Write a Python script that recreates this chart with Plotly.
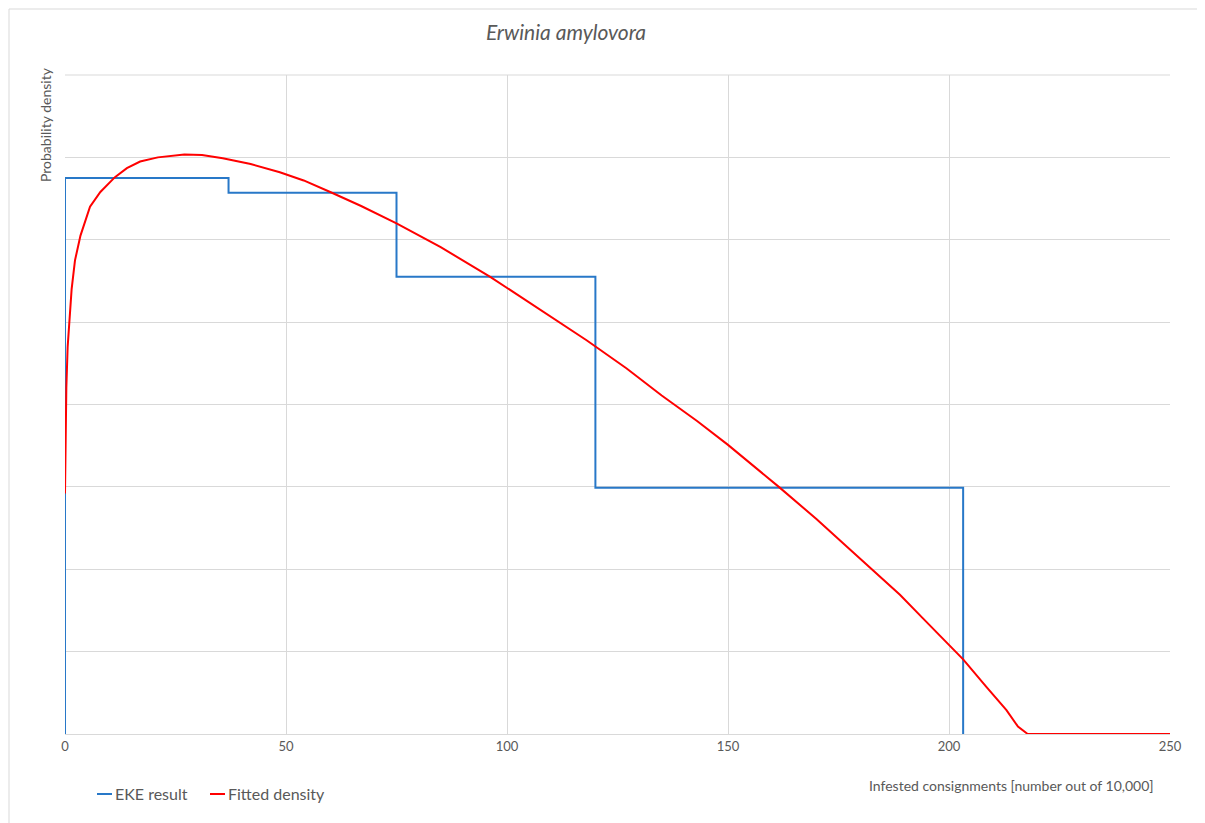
import plotly.graph_objects as go

# EKE result (step density)
eke_x = [0, 0, 37, 75, 120, 203.2, 203.2]
eke_y = [0, 6.75, 6.57, 5.55, 2.99, 2.99, 0]

# Fitted density
fit_x = [0, 0.1, 0.3, 0.6, 1.0, 1.5, 2.26, 3.5, 5.66, 8, 11.3, 14, 17, 21, 27, 31, 35.7,
         42, 48.6, 54, 60, 67, 75, 85, 96.2, 107, 118, 127, 135, 143, 150, 161.5, 170,
         177.6, 183, 188.9, 194, 199.9, 203.2, 208.5, 213, 215.6, 217.8, 250]
fit_y = [2.92, 3.6, 4.2, 4.7, 5.05, 5.4, 5.75, 6.05, 6.40, 6.58, 6.76, 6.87, 6.95, 7.00, 7.035,
         7.03, 6.99, 6.92, 6.82, 6.72, 6.58, 6.41, 6.20, 5.91, 5.55, 5.17, 4.78, 4.44, 4.11,
         3.80, 3.51, 3.00, 2.61, 2.24, 1.98, 1.69, 1.41, 1.08, 0.906, 0.57, 0.29, 0.09, 0, 0]

x_ticks = [0, 50, 100, 150, 200, 250]
legend_names = ["EKE result", "Fitted density"]
legend_colors = ["#2878C8", "#FF0000"]

FONT = "Lato"
GRAY = "#595959"
GRID = "#d9d9d9"

# page offset (browser body margin)
OFF = 8
W, H = 1205 - OFF, 823 - OFF


def px(X):
    return (X - 65) / 1105


def py(Y):
    return (734 - Y) / 659


fig = go.Figure()
fig.add_trace(go.Scatter(x=eke_x, y=eke_y, mode="lines", name=legend_names[0],
                         line=dict(color=legend_colors[0], width=2, shape="hv")))
fig.add_trace(go.Scatter(x=fit_x, y=fit_y, mode="lines", name=legend_names[1],
                         line=dict(color=legend_colors[1], width=2, shape="linear")))

annotations = [
    dict(text="Probability density", xref="paper", yref="paper",
         x=px(45), y=py(125), textangle=-90, showarrow=False,
         xanchor="center", yanchor="middle", font=dict(size=14, color=GRAY, family=FONT)),
    dict(text="Infested consignments [number out of 10,000]", xref="paper", yref="paper",
         x=px(1011), y=py(786), showarrow=False,
         xanchor="center", yanchor="middle", font=dict(size=14, color=GRAY, family=FONT)),
]
shapes = [
    dict(type="rect", xref="paper", yref="paper",
         x0=px(9), x1=px(1215), y0=py(840), y1=py(9),
         line=dict(color=GRID, width=1), layer="below"),
    dict(type="line", xref="paper", yref="paper", x0=0, x1=1, y0=1, y1=1,
         line=dict(color=GRID, width=1), layer="below"),
]
# manual legend
leg_line_x = [97, 210]
for i, name in enumerate(legend_names):
    x0 = leg_line_x[i]
    shapes.append(dict(type="line", xref="paper", yref="paper",
                       x0=px(x0), x1=px(x0 + 15), y0=py(794), y1=py(794),
                       line=dict(color=legend_colors[i], width=2)))
    annotations.append(dict(text=name, xref="paper", yref="paper", x=px(x0 + 16), y=py(794),
                            xanchor="left", yanchor="middle", showarrow=False,
                            font=dict(size=16, color=GRAY, family=FONT)))

fig.update_layout(
    width=W, height=H,
    margin=dict(l=65 - OFF, r=35, t=75 - OFF, b=89),
    paper_bgcolor="white", plot_bgcolor="white",
    font=dict(family=FONT, color=GRAY),
    title=dict(text="<i>Erwinia amylovora</i>", x=(566 - OFF) / W, xanchor="center",
               y=1 - (33 - OFF) / H, yanchor="middle",
               font=dict(size=21, color=GRAY, family=FONT)),
    showlegend=False,
    xaxis=dict(range=[0, 250], tickvals=x_ticks, showgrid=True, gridcolor=GRID, gridwidth=1,
               zeroline=False, showline=True, linecolor=GRID, linewidth=1,
               tickfont=dict(size=13, color=GRAY), ticks="", fixedrange=True),
    yaxis=dict(range=[0, 8], dtick=1, showgrid=True, gridcolor=GRID, gridwidth=1,
               zeroline=False, showticklabels=False, ticks="", showline=False),
    annotations=annotations,
    shapes=shapes,
)

fig.write_html("out.html")
